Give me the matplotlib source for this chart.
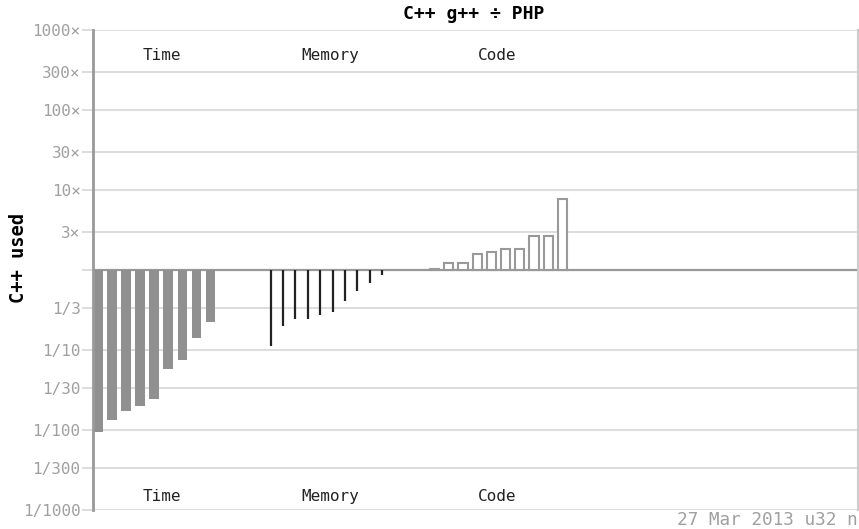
import matplotlib
matplotlib.use("Agg")
import matplotlib.pyplot as plt
import matplotlib.transforms as mtransforms

# C++ g++ / PHP ratios per benchmark, sorted as in the chart
time_ratio = [0.0094, 0.0132, 0.0171, 0.020, 0.0246, 0.058, 0.0756, 0.140, 0.222]
memory_ratio = [0.113, 0.200, 0.242, 0.244, 0.272, 0.299, 0.406, 0.551, 0.682, 0.874]
code_ratio = [1.02, 1.23, 1.23, 1.58, 1.69, 1.85, 1.85, 2.66, 2.66, 7.64]

tick_values = [1000, 300, 100, 30, 10, 3, 1, 1/3, 1/10, 1/30, 1/100, 1/300, 1/1000]
tick_labels = ["1000×", "300×", "100×", "30×", "10×", "3×", "",
               "1/3", "1/10", "1/30", "1/100", "1/300", "1/1000"]
group_names = ["Time", "Memory", "Code"]

W, H = 859, 529
fig = plt.figure(figsize=(W / 100, H / 100), dpi=100)
ax = fig.add_axes([93 / W, (H - 510) / H, (858 - 93) / W, 480 / H])

mono = "DejaVu Sans Mono"
grid_col = "#dddddd"

# x layout in pixel-like units
ax.set_xlim(93, 858)
ax.set_yscale("log")
ax.set_ylim(1 / 1000, 1000)

time_x = [93 + i * 14.1 for i in range(len(time_ratio))]
mem_x = [270.7 + i * 12.4 for i in range(len(memory_ratio))]
code_x = [430 + i * 14.2 for i in range(len(code_ratio))]

for yv in tick_values:
    ax.axhline(yv, color=grid_col, lw=1.4, zorder=0)
ax.axhline(1, color="#999999", lw=1.6, zorder=1)

ax.bar(time_x, [v - 1 for v in time_ratio], bottom=1, width=9.6, align="edge",
       color="#909090", edgecolor="none", zorder=2)
ax.vlines(mem_x, memory_ratio, 1, color="#222222", lw=1.6, zorder=2)
ax.bar(code_x, [v - 1 for v in code_ratio], bottom=1, width=9.3, align="edge",
       facecolor="white", edgecolor="#999999", lw=1.5, zorder=2)

ax.set_yticks(tick_values)
ax.set_yticklabels(tick_labels)
ax.minorticks_off()
ax.tick_params(axis="y", length=8, width=1.4, color=grid_col, pad=1,
               labelsize=11.5, labelcolor="#a0a0a0")
for lab in ax.get_yticklabels():
    lab.set_fontfamily(mono)
ax.set_xticks([])

for side in ["top", "bottom"]:
    ax.spines[side].set_visible(False)
ax.spines["left"].set_color("#999999")
ax.spines["left"].set_linewidth(2)
ax.spines["right"].set_color("#cccccc")
ax.spines["right"].set_linewidth(1.5)

trans = mtransforms.blended_transform_factory(ax.transData, ax.transAxes)
label_x = [162, 330.5, 497.5]
for name, lx in zip(group_names, label_x):
    ax.text(lx, 0.946, name, transform=trans, ha="center", va="center",
            fontsize=11.5, family=mono, color="#222222")
    ax.text(lx, 0.029, name, transform=trans, ha="center", va="center",
            fontsize=11.5, family=mono, color="#222222")

fig.text(474 / W, 1 - 14 / H, "C++ g++ ÷ PHP", ha="center", va="center",
         fontsize=13, family=mono, fontweight="bold")
fig.text(19 / W, 1 - 258 / H, "C++ used", ha="center", va="center", rotation=90,
         fontsize=13.5, family=mono, fontweight="bold")
fig.text(677 / W, 1 - 520 / H, "27 Mar 2013 u32 n", ha="left", va="center",
         fontsize=12.8, family=mono, color="#a0a0a0")

fig.savefig("out.png", dpi=100)
